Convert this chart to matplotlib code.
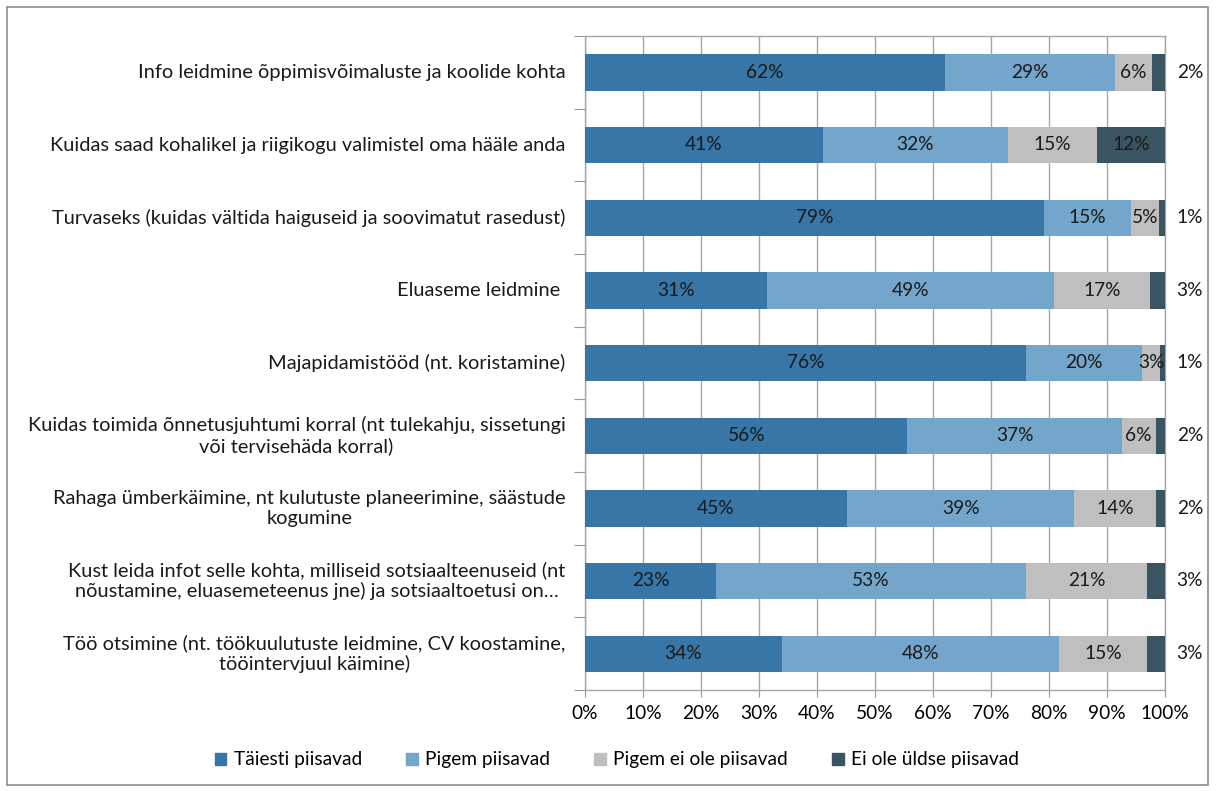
import numpy as np
import matplotlib.pyplot as plt
from matplotlib.patches import Rectangle

plt.rcParams['font.family'] = ['Lato', 'DejaVu Sans']

categories = [
    "Info leidmine õppimisvõimaluste ja koolide kohta",
    "Kuidas saad kohalikel ja riigikogu valimistel oma hääle anda",
    "Turvaseks (kuidas vältida haiguseid ja soovimatut rasedust)",
    "Eluaseme leidmine ",
    "Majapidamistööd (nt. koristamine)",
    "Kuidas toimida õnnetusjuhtumi korral (nt tulekahju, sissetungi\nvõi tervisehäda korral)",
    "Rahaga ümberkäimine, nt kulutuste planeerimine, säästude\nkogumine",
    "Kust leida infot selle kohta, milliseid sotsiaalteenuseid (nt\nnõustamine, eluasemeteenus jne) ja sotsiaaltoetusi on…",
    "Töö otsimine (nt. töökuulutuste leidmine, CV koostamine,\ntööintervjuul käimine)",
]
series = ["Täiesti piisavad", "Pigem piisavad", "Pigem ei ole piisavad", "Ei ole üldse piisavad"]
taiesti = [62.1, 41.0, 79.1, 31.4, 76.1, 55.6, 45.2, 22.6, 33.9]
pigem = [29.3, 31.9, 15.0, 49.4, 19.9, 36.9, 39.1, 53.4, 47.9]
pigem_ei = [6.4, 15.3, 4.9, 16.6, 3.2, 5.9, 14.1, 20.9, 15.1]
ei_ole = [2.2, 11.8, 1.0, 2.6, 0.8, 1.6, 1.6, 3.1, 3.1]
colors = ["#3776a6", "#74a6cc", "#bfbfbf", "#3b5461"]

data = np.array([taiesti, pigem, pigem_ei, ei_ole])
data = data / data.sum(axis=0) * 100

fig = plt.figure(figsize=(12.16, 7.91), dpi=100)
ax = fig.add_axes([585 / 1216, 1 - 690 / 791, 580 / 1216, 654 / 791])

fs = 13.8
y = np.arange(len(categories))
left = np.zeros(len(categories))
for k in range(4):
    ax.barh(y, data[k], left=left, height=0.5, color=colors[k], label=series[k], zorder=3)
    for i in range(len(categories)):
        v = data[k, i]
        lbl = f"{round(v):.0f}%"
        if k == 3 and v < 5:
            ax.text(104.3, y[i], lbl, ha='center', va='center', fontsize=fs, color='#1a1a1a',
                    clip_on=False)
        else:
            ax.text(left[i] + v / 2, y[i], lbl, ha='center', va='center', fontsize=fs,
                    color='#1a1a1a', zorder=4)
    left += data[k]

ax.set_xlim(0, 100)
ax.set_ylim(len(categories) - 0.5, -0.5)
ax.set_xticks(np.arange(0, 101, 10))
ax.set_xticklabels([f"{t}%" for t in range(0, 101, 10)], fontsize=fs)
ax.set_yticks(np.arange(-0.5, len(categories), 1))
ax.set_yticklabels([])
ax.tick_params(axis='y', length=8, color='#999999')
ax.tick_params(axis='x', length=5, color='#999999', pad=6)
ax.grid(axis='x', color='#a6a6a6', linewidth=1, zorder=0)
for s in ax.spines.values():
    s.set_color('#a6a6a6')
    s.set_linewidth(1)

for i, c in enumerate(categories):
    ax.annotate(c, xy=(0, y[i]), xycoords=ax.get_yaxis_transform(), xytext=(-14, 0),
                textcoords='offset points', ha='right', va='center',
                multialignment='center', fontsize=14.4, color='#1a1a1a')

fig.legend(handles=[Rectangle((0, 0), 1, 1, color=c) for c in colors], labels=series,
           loc='center', bbox_to_anchor=(617 / 1216, 1 - 760 / 791), ncol=4,
           frameon=False, fontsize=fs, handlelength=0.6, handleheight=0.6,
           columnspacing=2.3, handletextpad=0.4)

fig.patches.append(Rectangle((7 / 1216, 6 / 791), 1201 / 1216, 778 / 791, fill=False,
                             edgecolor='#8c8c8c', linewidth=1.2, transform=fig.transFigure))

fig.savefig("out.png", dpi=100)
